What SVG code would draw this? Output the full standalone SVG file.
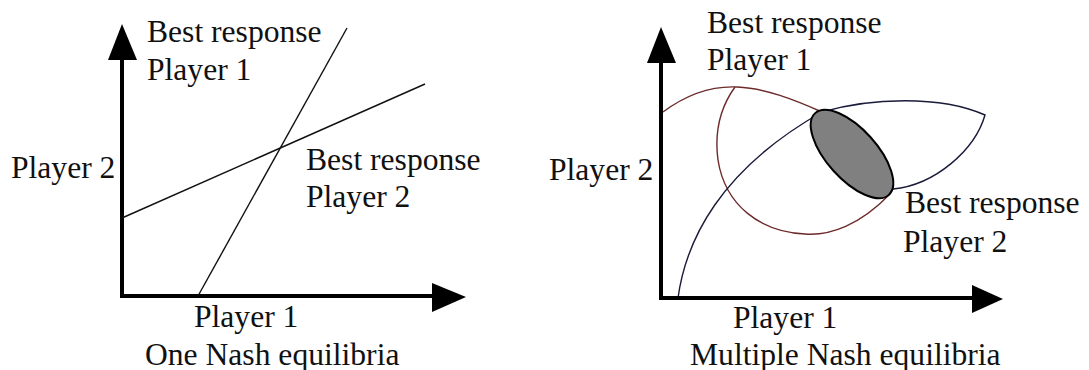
<svg xmlns="http://www.w3.org/2000/svg" width="1089" height="370" viewBox="0 0 1089 370">
<style>
text{font-family:"Liberation Serif","Times New Roman",serif;font-size:31.6px;fill:#111}
.axis{fill:none;stroke:#000;stroke-width:4;stroke-linejoin:miter}
.head{fill:#000}
.br{fill:none;stroke:#111;stroke-width:1.4}
.br1{fill:none;stroke:#6e2a2a;stroke-width:1.4}
.br2{fill:none;stroke:#1a1a3a;stroke-width:1.4}
</style>
<rect width="1089" height="370" fill="#fff"/>
<g id="left-panel">
  <g id="left-axes">
    <path class="axis" d="M122,58 V296 H436"/>
    <polygon class="head" points="122,24 108,60 137,60"/>
    <polygon class="head" points="466,297 432,283 432,312"/>
  </g>
  <g id="left-connectors">
    <line class="br" x1="198" y1="296" x2="347" y2="28"/>
    <line class="br" x1="122" y1="218" x2="425" y2="84"/>
  </g>
  <g id="left-labels">
    <text x="147" y="42">Best response</text>
    <text x="147" y="80">Player 1</text>
    <text x="11" y="178">Player 2</text>
    <text x="306" y="170">Best response</text>
    <text x="306" y="207">Player 2</text>
    <text x="194" y="327">Player 1</text>
    <text x="145" y="365">One Nash equilibria</text>
  </g>
</g>
<g id="right-panel">
  <g id="right-connectors">
    <path class="br1" d="M663,112 C690,92 715,86 737,87 C765,88 795,100 822,112"/>
    <path class="br1" d="M890,194 C860,225 830,236 805,234 C760,232 725,205 718,160 C714,130 722,105 735,87"/>
    <path class="br2" d="M678,298 C686,240 720,170 822,112 C870,98 940,95 985,115 C975,150 935,185 893,189"/>
  </g>
  <g id="equilibria">
    <ellipse cx="852" cy="154" rx="55" ry="25" transform="rotate(48 852 154)" fill="#808080" stroke="#000" stroke-width="2"/>
  </g>
  <g id="right-axes">
    <path class="axis" d="M661,61 V298 H974"/>
    <polygon class="head" points="661,27 647,63 676,63"/>
    <polygon class="head" points="1003,299 972,285 972,313"/>
  </g>
  <g id="right-labels">
    <text x="707" y="33">Best response</text>
    <text x="707" y="70">Player 1</text>
    <text x="549" y="180">Player 2</text>
    <text x="905" y="213">Best response</text>
    <text x="903" y="252">Player 2</text>
    <text x="733" y="328">Player 1</text>
    <text x="690" y="365">Multiple Nash equilibria</text>
  </g>
</g>
</svg>
